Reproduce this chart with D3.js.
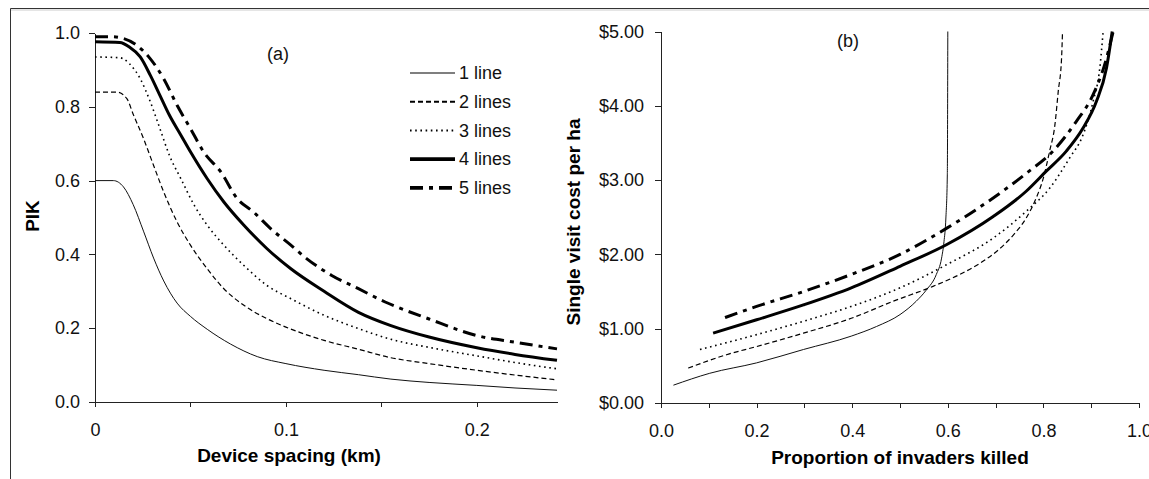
<!DOCTYPE html>
<html>
<head>
<meta charset="utf-8">
<script src="https://cdn.jsdelivr.net/npm/d3@7"></script>
<style>
  body { margin: 0; background: #fff; }
  svg { display: block; font-family: "Liberation Sans", Arial, sans-serif; }
  .axis path, .axis line { stroke: #222; shape-rendering: crispEdges; }
  .axis text { font-size: 18px; fill: #111; }
  .title { font-size: 19px; font-weight: bold; fill: #000; }
  .lbl { font-size: 18px; fill: #111; }
</style>
</head>
<body>
<svg width="1149" height="479"></svg>
<script>
// ---- data ----
// (a) PIK vs device spacing (km)
var pik1 = [[0,0.60],[0.0096,0.60],[0.0149,0.583],[0.020,0.535],[0.0254,0.463],[0.0307,0.39],[0.036,0.328],[0.043,0.268],[0.050,0.232],[0.0588,0.197],[0.071,0.157],[0.085,0.123],[0.1,0.104],[0.12,0.086],[0.138,0.074],[0.155,0.062],[0.175,0.053],[0.2,0.045],[0.22,0.038],[0.242,0.032]];
var pik2 = [[0,0.84],[0.0114,0.84],[0.0167,0.822],[0.020,0.78],[0.0254,0.714],[0.0307,0.641],[0.036,0.569],[0.043,0.488],[0.050,0.425],[0.0588,0.361],[0.0675,0.307],[0.078,0.262],[0.090,0.226],[0.1,0.203],[0.12,0.167],[0.138,0.143],[0.155,0.12],[0.175,0.104],[0.2,0.086],[0.22,0.073],[0.242,0.06]];
var pik3 = [[0,0.935],[0.013,0.933],[0.018,0.917],[0.0237,0.876],[0.029,0.813],[0.034,0.741],[0.039,0.668],[0.045,0.605],[0.052,0.533],[0.0588,0.479],[0.0675,0.425],[0.078,0.37],[0.090,0.316],[0.1026,0.28],[0.12,0.235],[0.138,0.199],[0.155,0.17],[0.175,0.148],[0.2,0.125],[0.22,0.107],[0.242,0.09]];
var pik4 = [[0,0.976],[0.013,0.974],[0.018,0.962],[0.0237,0.935],[0.029,0.885],[0.034,0.831],[0.039,0.777],[0.045,0.723],[0.050,0.678],[0.0588,0.605],[0.0675,0.542],[0.078,0.479],[0.090,0.416],[0.1026,0.361],[0.12,0.30],[0.138,0.243],[0.155,0.207],[0.175,0.176],[0.2,0.147],[0.22,0.129],[0.242,0.113]];
var pik5 = [[0,0.99],[0.008,0.99],[0.015,0.985],[0.022,0.966],[0.029,0.93],[0.036,0.876],[0.043,0.804],[0.050,0.741],[0.057,0.677],[0.066,0.623],[0.0745,0.551],[0.083,0.515],[0.092,0.47],[0.1026,0.425],[0.111,0.388],[0.124,0.343],[0.138,0.307],[0.152,0.271],[0.175,0.225],[0.2,0.18],[0.22,0.162],[0.242,0.144]];

// (b) single visit cost per ha vs proportion killed
var cost1 = [[0.026,0.24],[0.102,0.40],[0.2,0.54],[0.298,0.72],[0.398,0.90],[0.451,1.03],[0.5,1.19],[0.534,1.37],[0.555,1.52],[0.576,1.73],[0.587,1.95],[0.592,2.17],[0.596,2.49],[0.599,3.07],[0.6,5.0]];
var cost2 = [[0.057,0.47],[0.137,0.65],[0.2,0.76],[0.298,0.94],[0.398,1.14],[0.486,1.37],[0.569,1.57],[0.625,1.73],[0.667,1.88],[0.702,2.04],[0.737,2.26],[0.764,2.49],[0.785,2.76],[0.8,3.03],[0.813,3.39],[0.824,3.74],[0.831,4.19],[0.838,4.64],[0.84,5.0]];
var cost3 = [[0.0815,0.72],[0.2,0.92],[0.298,1.10],[0.398,1.30],[0.5,1.55],[0.597,1.86],[0.695,2.22],[0.764,2.58],[0.813,2.89],[0.855,3.30],[0.883,3.61],[0.904,4.06],[0.918,4.51],[0.925,5.0]];
var cost4 = [[0.109,0.94],[0.2,1.12],[0.298,1.32],[0.398,1.55],[0.5,1.84],[0.597,2.13],[0.695,2.51],[0.764,2.85],[0.806,3.12],[0.848,3.39],[0.883,3.70],[0.911,4.06],[0.932,4.51],[0.944,5.0]];
var cost5 = [[0.134,1.15],[0.2,1.30],[0.298,1.50],[0.398,1.73],[0.5,2.00],[0.597,2.35],[0.695,2.76],[0.764,3.09],[0.82,3.39],[0.869,3.79],[0.904,4.15],[0.928,4.55],[0.946,5.0]];

var seriesNames = ["1 line", "2 lines", "3 lines", "4 lines", "5 lines"];
var pikTicksX = [0, 0.05, 0.1, 0.15, 0.2];
var pikTicksY = [0, 0.2, 0.4, 0.6, 0.8, 1.0];
var costTicksX = [0, 0.1, 0.2, 0.3, 0.4, 0.5, 0.6, 0.7, 0.8, 0.9, 1.0];
var costTicksY = [0, 1, 2, 3, 4, 5];

// line looks, one per series
var styles = [
    { w: 1, dash: null, col: "#111" },
    { w: 1.2, dash: "5,3", col: "#000" },
    { w: 1.6, dash: "1.6,3.6", col: "#000" },
    { w: 3, dash: null, col: "#000" },
    { w: 3, dash: "13,6,4,6", col: "#000" }
];

var svg = d3.select("svg");

// outer frame (top + left edge only show in the crop)
svg.append("line").attr("x1", 10.5).attr("x2", 1149).attr("y1", 8.5).attr("y2", 8.5).attr("stroke", "#333");
svg.append("line").attr("x1", 11).attr("x2", 1149).attr("y1", 10).attr("y2", 10).attr("stroke", "#ccc");
svg.append("line").attr("x1", 10.5).attr("x2", 10.5).attr("y1", 8.5).attr("y2", 479).attr("stroke", "#333");

function drawLines(g, list, x, y) {
    var line = d3.line()
        .x(function (d) { return x(d[0]); })
        .y(function (d) { return y(d[1]); })
        .curve(d3.curveMonotoneX);
    list.forEach(function (s, i) {
        var st = styles[i];
        g.append("path")
            .attr("d", line(s))
            .attr("fill", "none")
            .attr("stroke", st.col)
            .attr("stroke-width", st.w)
            .attr("stroke-dasharray", st.dash);
    });
}

// ---------- panel (a) ----------
var xa = d3.scaleLinear().domain([0, 0.242]).range([95, 557]);
var ya = d3.scaleLinear().domain([0, 1]).range([402, 33]);

svg.append("clipPath").attr("id", "clipA")
    .append("rect").attr("x", 95).attr("y", 30).attr("width", 463).attr("height", 373);

var ga = svg.append("g");
ga.append("g").attr("class", "axis").attr("transform", "translate(0,402)")
    .call(d3.axisBottom(xa).tickValues(pikTicksX).tickSize(5).tickSizeOuter(0).tickPadding(16)
        .tickFormat(function (d) { return (Math.round(d * 100) % 10 === 0) ? (d === 0 ? "0" : d3.format(".1f")(d)) : ""; }));
ga.append("g").attr("class", "axis").attr("transform", "translate(95,0)")
    .call(d3.axisLeft(ya).tickValues(pikTicksY).tickSize(6).tickSizeOuter(0).tickPadding(9)
        .tickFormat(d3.format(".1f")));

drawLines(ga.append("g").attr("clip-path", "url(#clipA)"), [pik1, pik2, pik3, pik4, pik5], xa, ya);

ga.append("text").attr("class", "lbl").attr("x", 278).attr("y", 54).attr("dy", "0.35em")
    .attr("text-anchor", "middle").text("(a)");
ga.append("text").attr("class", "title").attr("x", 289).attr("y", 455).attr("dy", "0.35em")
    .attr("text-anchor", "middle").text("Device spacing (km)");
ga.append("text").attr("class", "title").attr("transform", "translate(32,216) rotate(-90)")
    .attr("dy", "0.35em").attr("text-anchor", "middle").text("PIK");

// legend
var leg = ga.append("g");
seriesNames.forEach(function (name, i) {
    var yy = 73 + i * 28.7;
    var st = styles[i];
    leg.append("line").attr("x1", 410).attr("x2", 455).attr("y1", yy).attr("y2", yy)
        .attr("stroke", i === 0 ? "#555" : st.col)
        .attr("stroke-width", i === 0 ? 1.3 : Math.max(st.w, 2) + (i >= 3 ? 0.8 : 0))
        .attr("stroke-dasharray", st.dash);
    leg.append("text").attr("class", "lbl").attr("x", 459).attr("y", yy).attr("dy", "0.35em").text(name);
});

// ---------- panel (b) ----------
var xb = d3.scaleLinear().domain([0, 1]).range([661, 1139]);
var yb = d3.scaleLinear().domain([0, 5]).range([403, 31.5]);

svg.append("clipPath").attr("id", "clipB")
    .append("rect").attr("x", 661).attr("y", 31).attr("width", 480).attr("height", 373);

var gb = svg.append("g");
gb.append("g").attr("class", "axis").attr("transform", "translate(0,403)")
    .call(d3.axisBottom(xb).tickValues(costTicksX).tickSize(5).tickSizeOuter(0).tickPadding(16)
        .tickFormat(function (d) { return (Math.round(d * 10) % 2 === 0) ? d3.format(".1f")(d) : ""; }));
gb.append("g").attr("class", "axis").attr("transform", "translate(661,0)")
    .call(d3.axisLeft(yb).tickValues(costTicksY).tickSize(6).tickSizeOuter(0).tickPadding(11)
        .tickFormat(function (d) { return "$" + d3.format(".2f")(d); }));

drawLines(gb.append("g").attr("clip-path", "url(#clipB)"), [cost1, cost2, cost3, cost4, cost5], xb, yb);

gb.append("text").attr("class", "lbl").attr("x", 848).attr("y", 41).attr("dy", "0.35em")
    .attr("text-anchor", "middle").text("(b)");
gb.append("text").attr("class", "title").attr("x", 900).attr("y", 457).attr("dy", "0.35em")
    .attr("text-anchor", "middle").text("Proportion of invaders killed");
gb.append("text").attr("class", "title").attr("transform", "translate(573,222) rotate(-90)")
    .attr("dy", "0.35em").attr("text-anchor", "middle").text("Single visit cost per ha");
</script>
</body>
</html>
